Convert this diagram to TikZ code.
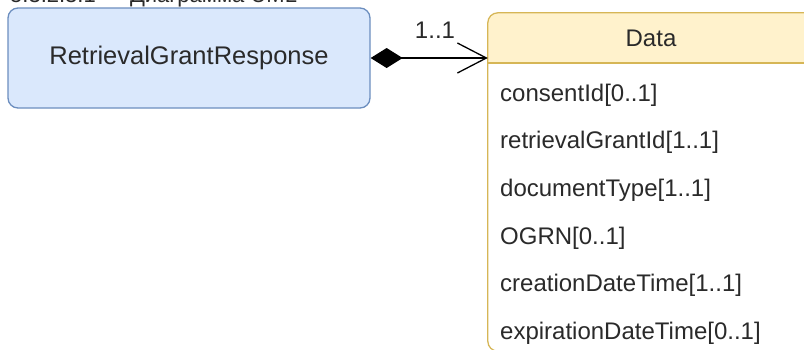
\documentclass[tikz,border=0pt]{standalone}
\usepackage{fontspec}
\setmainfont{Liberation Sans}
\usetikzlibrary{arrows.meta}
\definecolor{blueFill}{HTML}{DAE8FC}
\definecolor{blueLine}{HTML}{6C8EBF}
\definecolor{yelFill}{HTML}{FFF2CC}
\definecolor{yelLine}{HTML}{D6B656}
\definecolor{txt}{HTML}{2A2A2A}
\tikzset{
  uml/.style={font=\fontsize{24}{28}\selectfont, text=txt},
  attr/.style={uml, anchor=west, inner sep=0pt},
  lane/.style={line width=1.3pt, draw=yelLine},
}
\begin{document}
\begin{tikzpicture}[x=1pt,y=-1pt]
\useasboundingbox (0,0) rectangle (804,349);
\clip (0,0) rectangle (804,349);
\fill[white] (0,0) rectangle (804,349);
% cut-off heading
\node[anchor=base west, inner sep=0pt, font=\fontsize{22}{26}\selectfont, text=txt] (head) at (10,2) {5.3.2.3.1 — Диаграмма UML};
% source class
\node[uml, font=\fontsize{25.5}{30}\selectfont, draw=blueLine, fill=blueFill, line width=1.3pt, rounded corners=10pt,
      minimum width=362pt, minimum height=100pt, inner sep=0pt] (resp) at (189,58) {RetrievalGrantResponse};
% target swimlane
\node[minimum width=326pt, minimum height=338pt, inner sep=0pt] (lane) at (651,182) {};
\fill[white, rounded corners=10pt] (lane.north west) rectangle (lane.south east);
\fill[yelFill, rounded corners=10pt] (488,63) -- (488,13) -- (814,13) -- (814,63) [sharp corners] -- cycle;
\draw[lane, rounded corners=10pt] (lane.north west) rectangle (lane.south east);
\draw[lane] (488,63) -- (814,63);
\node[uml, inner sep=0pt] (data) at (651,38) {Data};
% attributes
\node[attr] (a1) at (500,95) {consentId[0..1]};
\node[attr] (a2) at (500,142.6) {retrievalGrantId[1..1]};
\node[attr] (a3) at (500,190.2) {documentType[1..1]};
\node[attr] (a4) at (500,237.8) {OGRN[0..1]};
\node[attr] (a5) at (500,285.4) {creationDateTime[1..1]};
\node[attr] (a6) at (500,333) {expirationDateTime[0..1]};
% composition
\draw[line width=1.3pt, {Diamond[length=32pt,width=20pt]}-{Straight Barb[length=29pt,width=30pt,line width=1.3pt]}]
  (resp.east) -- (lane.west |- resp.east);
\node[uml, inner sep=0pt] (mult) at (435,30) {1..1};
\end{tikzpicture}
\end{document}
